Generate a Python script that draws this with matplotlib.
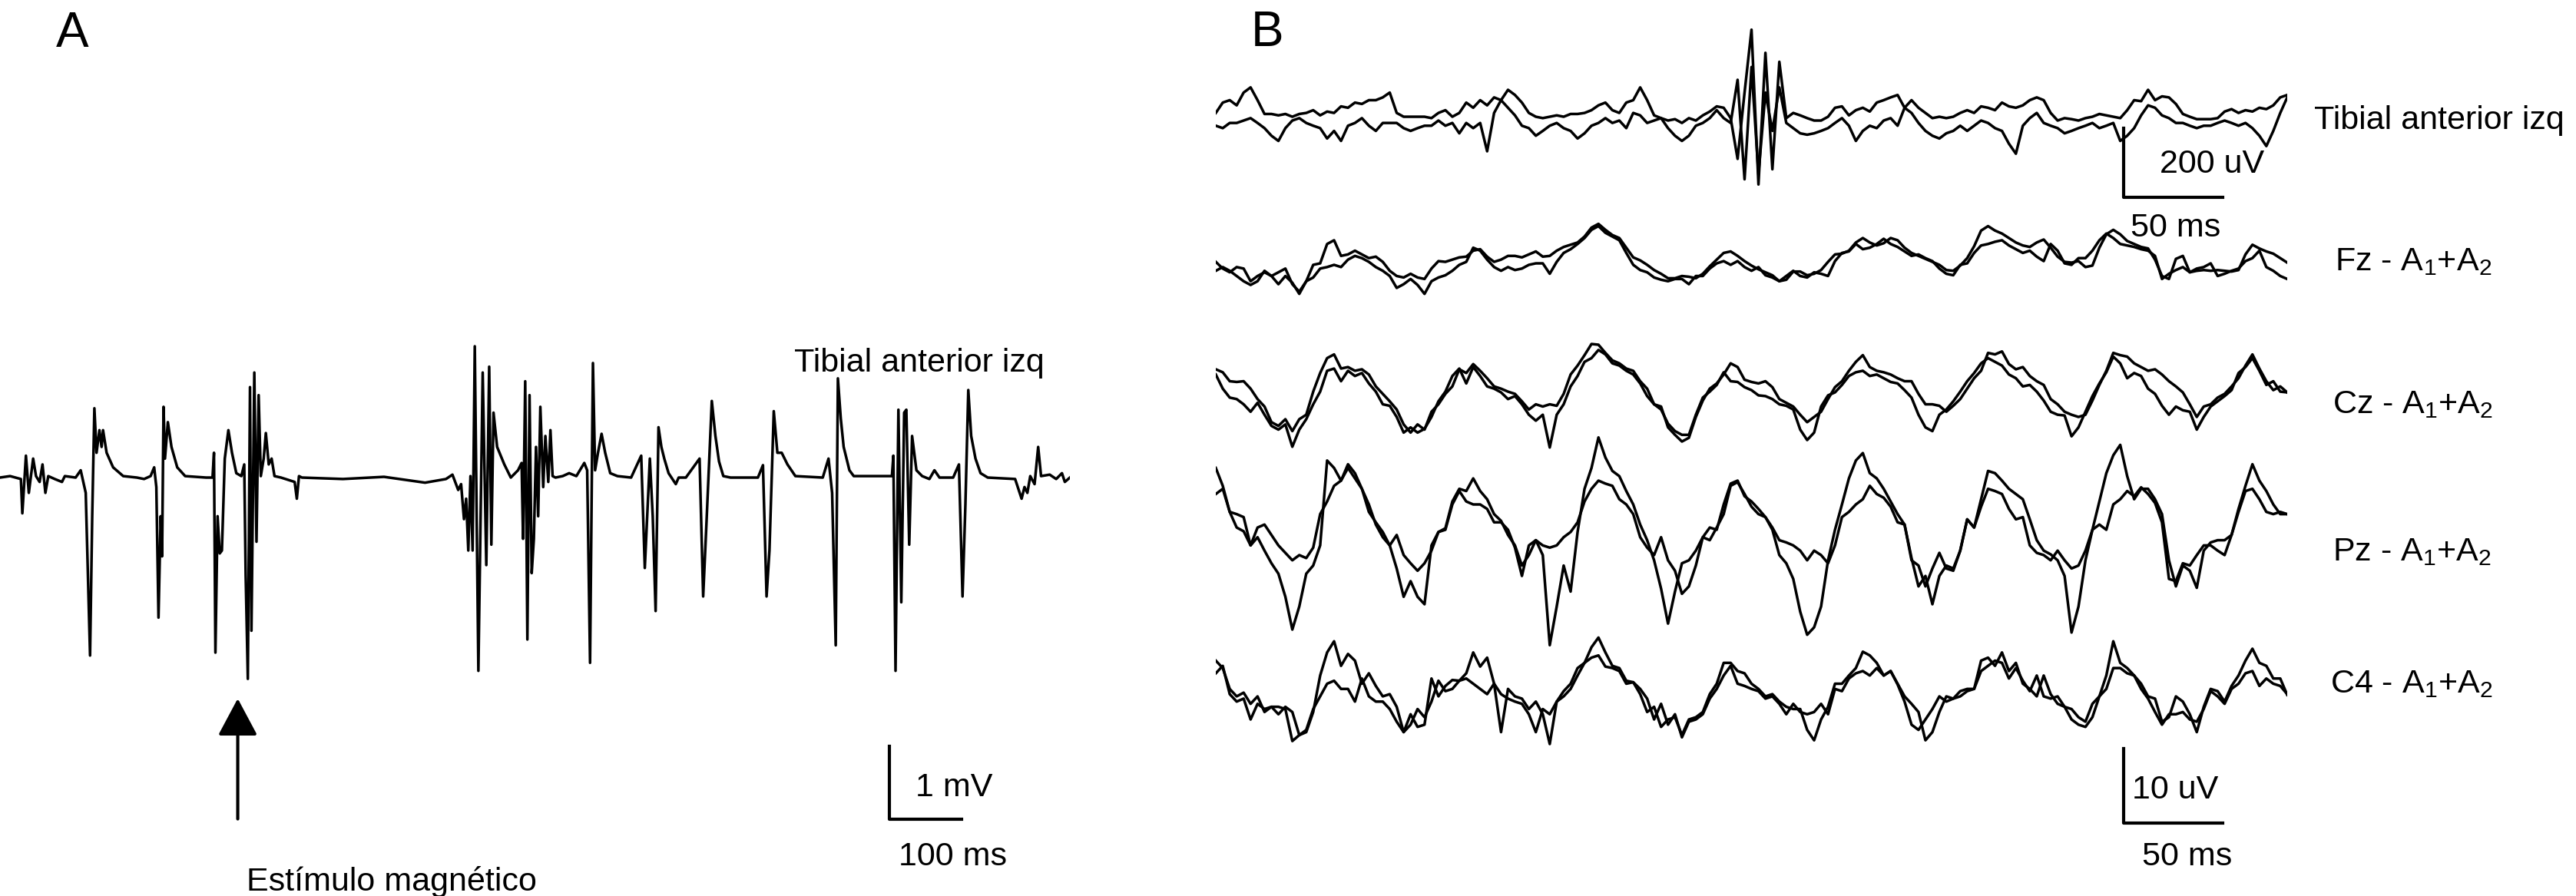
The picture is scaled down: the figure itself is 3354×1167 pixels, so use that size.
import numpy as np
import matplotlib
matplotlib.use("Agg")
import matplotlib.pyplot as plt

plt.rcParams['font.family'] = ['Liberation Sans', 'DejaVu Sans']
plt.rcParams['mathtext.fontset'] = 'custom'
plt.rcParams['mathtext.rm'] = 'Liberation Sans'
plt.rcParams['mathtext.it'] = 'Liberation Sans:italic'
plt.rcParams['mathtext.default'] = 'regular'

W, H = 3354, 1167

# ---------------- panel A: tibial anterior EMG (ms, mV) ----------------
emg_t_ms = [0, 14, 29, 31, 36, 40, 46, 50, 55, 59, 63, 67, 76, 86, 90, 105, 112, 119, 125, 128,
            131, 134, 138, 141, 143, 148, 157, 171, 190, 200, 209, 214, 217, 220, 223, 225, 227, 229, 233, 238,
            246, 257, 286, 295, 297, 299, 302, 305, 308, 312, 317, 322, 328, 335, 339, 341, 344, 347, 349, 353,
            356, 359, 362, 366, 369, 373, 377, 381, 390, 409, 412, 415, 419, 476, 533, 590, 619, 628, 636, 640,
            644, 647, 650, 653, 656, 659, 664, 670, 675, 679, 682, 685, 690, 700, 709, 719, 724, 726, 729, 732,
            735, 738, 741, 744, 747, 750, 754, 757, 761, 764, 767, 771, 781, 790, 800, 811, 815, 819, 823, 826,
            830, 835, 840, 847, 857, 876, 890, 895, 899, 902, 906, 910, 914, 918, 922, 928, 938, 942, 952, 971,
            976, 981, 988, 993, 998, 1004, 1014, 1052, 1059, 1064, 1068, 1074, 1079, 1085, 1093, 1104, 1142, 1150, 1155, 1160,
            1163, 1167, 1171, 1179, 1185, 1238, 1240, 1243, 1247, 1251, 1255, 1258, 1262, 1266, 1272, 1280, 1290, 1297, 1304, 1323,
            1331, 1336, 1340, 1344, 1348, 1354, 1361, 1371, 1409, 1418, 1422, 1426, 1430, 1436, 1441, 1445, 1457, 1466, 1474, 1478,
            1485]
emg_mv = [0, 0.02, -0.02, -0.49, 0.30, -0.21, 0.26, 0.02, -0.06, 0.18, -0.21, 0.02, -0.02, -0.06, 0.02, 0, 0.10, -0.21, -2.44, -0.53,
          0.95, 0.34, 0.65, 0.42, 0.65, 0.34, 0.14, 0.02, 0, -0.02, 0.02, 0.14, -0.13, -1.92, -0.53, -1.08, 0.97, 0.26, 0.76, 0.42,
          0.14, 0.02, 0, 0, 0.34, -2.40, -0.53, -1.04, -1.00, 0.26, 0.65, 0.34, 0.06, 0.02, 0.18, -1.34, -2.76, 1.24, -2.10, 1.44,
          -0.88, 1.13, 0.02, 0.26, 0.61, 0.18, 0.26, 0.02, 0, -0.06, -0.29, 0.02, 0, -0.02, 0.01, -0.07, -0.02, 0.04, -0.17, -0.09,
          -0.57, -0.29, -1.00, 0.02, -1.00, 1.80, -2.65, 1.44, -1.20, 1.52, -0.92, 0.89, 0.42, 0.18, 0, 0.10, 0.20, -0.84, 1.32, -2.22,
          1.13, -1.31, -0.84, 0.42, -0.53, 0.97, -0.13, 0.57, -0.06, 0.65, 0.02, 0, 0.02, 0.06, 0.02, 0.20, 0.10, -2.54, 1.57, 0.10,
          0.34, 0.60, 0.34, 0.06, 0.02, 0, 0.30, -1.24, -0.37, 0.26, -0.53, -1.83, 0.69, 0.42, 0.26, 0.06, -0.09, 0, 0, 0.26,
          -1.63, -0.53, 1.05, 0.57, 0.22, 0.02, 0, 0, 0.17, -1.63, -1.00, 0.91, 0.34, 0.34, 0.18, 0.02, 0, 0.26, -0.21, -2.30,
          1.36, 0.81, 0.42, 0.10, 0.02, 0.02, 0.30, -2.65, 0.93, -1.71, 0.89, 0.93, -0.92, 0.57, 0.10, 0.02, -0.02, 0.10, 0, 0,
          0.18, -1.63, -0.37, 1.20, 0.57, 0.26, 0.06, 0, -0.02, -0.29, -0.13, -0.21, 0.02, -0.09, 0.42, 0.02, 0.04, -0.02, 0.06, -0.06,
          0]

# ---------------- panel B: two superimposed sweeps per channel (uV) ----------------
DT_MS = 3.5  # sample spacing of the digitised sweeps

tibial_a_uv = [22, 52, 59, 44, 81, 96, 59, 19, 19, 15, 19, 11, 19, 22, 30, 15, 26, 22, 41, 37,
               52, 48, 59, 59, 67, 81, 22, 11, 11, 11, 11, 7, 22, 30, 11, 22, 52, 37, 59, 44,
               67, 59, 89, 74, 52, 22, 11, 7, 11, 15, 11, 19, 19, 22, 30, 44, 52, 30, 22, 52,
               59, 96, 59, 15, 7, 0, 4, -7, 7, 0, 15, 26, 41, 37, 7, -111, 81, 263, -185, 196,
               -141, 170, 7, 22, 15, 7, 0, 0, 11, 37, 41, 15, 30, 37, 26, 52, 59, 67, 74, 37,
               59, 37, 22, 7, 11, 7, 11, 22, 30, 22, 41, 37, 30, 52, 41, 37, 44, 59, 67, 59,
               22, 0, 7, 4, 0, 7, 11, 19, 15, 11, 7, 30, 59, 56, 89, 59, 70, 67, 48, 19,
               11, 4, 4, 4, 7, 26, 33, 22, 30, 26, 37, 33, 44, 67, 74]
tibial_b_uv = [-15, -22, -7, -7, 0, 7, -7, -22, -44, -59, -22, 0, 7, -7, -15, -22, -52, -30, -59, -15,
               -7, 7, -15, -30, -7, -7, -7, -22, -30, -22, -15, -15, 0, -15, -7, -37, -7, -22, -7, -89,
               22, 59, 37, 15, -15, -22, -44, -30, -15, -7, -22, -30, -52, -37, -15, -7, 7, -7, 0, -22,
               22, 15, -7, 0, 7, -22, -44, -59, -44, -15, -7, 7, 30, 7, -7, 118, -170, 155, -155, 81,
               -30, 96, -7, -22, -37, -41, -37, -30, -22, -7, 7, -15, -59, -30, -15, -22, 0, 7, -15, 37,
               22, -7, -30, -44, -52, -37, -30, -15, -30, -15, 0, -7, -22, -30, -67, -96, -15, 7, 22, -7,
               -15, -22, -37, -30, -22, -15, -7, -22, -15, -7, -59, -44, -22, 15, 44, 37, 15, 7, -7, -7,
               -15, -22, -15, -15, -7, 0, -7, -15, -7, -22, -44, -74, -30, 22, 67]

fz_a_uv = [0.2, -0.7, -1.2, -0.5, -0.7, -2.4, -1.7, -1.2, -1.7, -1.2, -0.7, -2.8, -3.8, -2.4, -0.2, 0.0, 2.6, 3.1, 1.0, 1.2,
           1.7, 1.2, 0.7, 0.9, 0.2, -1.0, -1.7, -1.9, -1.4, -1.9, -2.1, -0.7, 0.3, 0.2, 0.5, 0.8, 0.9, 1.7, 1.9, 0.9,
           0.2, 0.5, 1.0, 1.0, 0.8, 1.2, 1.6, 0.9, 1.0, 1.7, 2.2, 2.5, 2.8, 3.6, 4.8, 5.3, 4.5, 3.8, 3.4, 2.1,
           0.8, 0.4, -0.2, -0.9, -1.4, -2.0, -2.0, -1.7, -1.8, -2.0, -1.4, -0.4, 0.5, 1.4, 1.6, 1.0, 0.3, -0.3, -0.8, -1.2,
           -1.6, -2.4, -2.2, -1.1, -1.1, -1.6, -1.4, -0.9, 0.2, 1.2, 1.3, 1.7, 2.8, 3.4, 2.8, 2.4, 2.7, 3.4, 3.1, 2.1,
           1.4, 1.0, 0.6, 0.2, -0.2, -0.9, -1.0, -0.3, 0.7, 2.3, 4.4, 5.0, 4.4, 4.0, 3.4, 2.8, 2.4, 2.2, 2.8, 3.2,
           2.1, 0.9, 0.2, 0.1, 0.3, -0.5, -0.3, 2.1, 3.9, 4.5, 3.9, 3.0, 2.6, 2.2, 2.0, 0.5, -1.7, -2.1, 0.6, 1.0,
           -1.2, -1.0, -0.9, -1.0, -0.9, -1.0, -1.1, -0.9, 1.2, 2.5, 2.0, 1.6, 1.3, 0.7, 0.1]
fz_b_uv = [-1.0, -0.5, -1.0, -1.7, -2.4, -2.9, -2.4, -1.0, -1.7, -2.8, -1.7, -2.6, -4.1, -2.4, -1.9, -0.7, -0.5, -0.2, -0.5, 0.5,
           1.0, 0.7, 0.2, -0.5, -1.0, -1.7, -3.3, -2.8, -2.1, -2.9, -4.1, -2.4, -1.9, -1.6, -1.0, -0.2, 0.2, 2.1, 1.7, 0.5,
           -0.5, -1.0, -0.5, -0.9, -0.7, -0.2, 0.0, 0.0, -1.4, 0.2, 1.4, 1.9, 2.6, 3.4, 4.5, 5.0, 4.1, 3.6, 3.1, 1.4,
           -0.2, -0.9, -1.2, -1.9, -2.2, -2.4, -2.1, -2.1, -2.8, -1.7, -1.7, -0.7, 0.0, 0.3, -0.2, 0.3, -0.5, -1.0, -0.5, -1.6,
           -1.9, -2.4, -1.7, -1.0, -1.7, -1.9, -1.2, -1.4, -1.7, 0.3, 1.4, 1.6, 2.6, 1.9, 2.1, 2.6, 3.3, 2.6, 2.2, 1.6,
           1.0, 1.2, 0.7, 0.3, -0.7, -1.4, -1.6, -0.2, 0.0, 1.4, 2.4, 2.6, 2.9, 3.1, 2.4, 1.9, 1.4, 1.7, 0.9, 0.3,
           2.6, 1.7, 0.0, -0.2, 0.7, 0.7, 1.7, 3.1, 4.0, 3.4, 2.6, 2.4, 2.2, 1.9, 1.7, 1.0, -2.1, -1.4, -0.9, -0.5,
           -1.2, -0.7, -0.5, 0.0, -1.7, -1.4, -1.0, -0.7, 0.3, 0.7, 1.7, -0.5, -1.0, -1.7, -2.1]

cz_a_uv = [3.3, 2.9, 1.7, 1.6, 1.7, 0.7, -0.7, -1.7, -3.8, -4.3, -3.4, -5.0, -3.4, -2.8, 0.3, 2.8, 4.8, 5.3, 3.4, 3.6,
           3.1, 3.3, 2.6, 1.0, 0.0, -1.0, -2.1, -4.1, -5.2, -4.1, -4.8, -2.4, -1.4, 0.0, 1.0, 3.3, 2.8, 4.0, 3.1, 2.1,
           1.0, 0.7, 0.3, 0.0, -1.0, -2.1, -1.4, -1.7, -1.4, -1.6, 0.0, 2.6, 3.8, 5.2, 6.7, 6.6, 5.5, 4.5, 4.1, 3.4,
           3.1, 1.7, 0.7, -1.4, -1.7, -4.5, -5.5, -6.4, -5.9, -3.1, -0.9, 0.7, 1.4, 2.6, 4.1, 3.6, 1.9, 1.6, 1.4, 1.7,
           0.9, -0.7, -1.2, -1.7, -2.8, -3.8, -3.1, -2.4, -0.7, 0.9, 1.7, 3.1, 4.3, 5.2, 3.6, 3.1, 2.9, 2.6, 2.1, 1.7,
           1.7, 0.0, -1.4, -1.4, -1.6, -2.4, -1.6, -0.7, 0.7, 2.1, 3.1, 5.5, 5.3, 5.7, 4.0, 3.3, 3.6, 2.4, 1.7, 1.2,
           -0.7, -1.4, -2.4, -2.8, -3.1, -2.8, -0.9, 1.2, 3.1, 5.5, 5.2, 5.0, 4.1, 3.6, 3.1, 3.3, 2.6, 1.7, 1.0, 0.2,
           -1.4, -3.1, -1.7, -1.4, -0.5, 0.0, 1.0, 2.1, 3.8, 5.3, 3.4, 1.7, 0.5, 1.0, 0.2]
cz_b_uv = [2.6, 0.7, -0.5, -0.7, -1.4, -2.4, -1.2, -2.8, -4.3, -4.8, -4.1, -7.1, -4.8, -3.4, -1.4, 0.3, 3.1, 3.4, 1.7, 3.1,
           2.4, 2.8, 1.4, 0.3, -1.4, -1.6, -3.1, -5.2, -4.5, -5.2, -4.7, -3.1, -1.0, 0.3, 2.4, 3.4, 1.4, 3.6, 2.4, 1.0,
           0.7, 0.2, -0.7, -0.3, -1.4, -2.8, -3.6, -2.8, -7.2, -2.8, -1.4, 1.0, 2.4, 4.3, 4.8, 5.9, 5.3, 4.1, 3.8, 3.1,
           2.6, 1.4, -0.3, -1.4, -2.1, -4.0, -5.0, -5.5, -5.5, -2.8, -0.5, 0.3, 1.2, 2.9, 1.7, 1.6, 0.9, 0.5, -0.2, -0.3,
           -0.7, -1.4, -1.6, -2.1, -4.8, -6.2, -5.2, -1.7, -0.2, 0.2, 1.2, 2.4, 2.9, 3.1, 2.4, 2.6, 2.1, 1.6, 1.4, 0.5,
           -0.5, -2.8, -4.5, -5.0, -2.8, -2.1, -1.0, 0.3, 1.7, 2.8, 4.1, 4.8, 4.3, 3.8, 2.6, 2.1, 1.0, 1.2, 0.3, -0.9,
           -2.4, -2.8, -2.9, -5.7, -4.5, -2.4, -0.3, 1.4, 2.9, 5.0, 4.1, 2.1, 2.8, 2.4, 0.7, 0.0, -1.6, -2.8, -1.7, -2.2,
           -2.4, -4.8, -3.1, -1.7, -1.0, -0.3, 0.5, 2.8, 3.6, 4.8, 3.1, 1.2, 1.7, 0.3, 0.2]

pz_a_uv = [8.3, 5.9, 2.4, 0.3, -0.2, -2.1, -1.0, -2.8, -4.5, -5.9, -9.0, -13.4, -10.3, -5.9, -4.8, -2.1, 9.3, 8.3, 6.6, 8.8,
           7.6, 5.5, 2.4, 1.0, -0.3, -2.1, -5.2, -9.0, -6.9, -9.0, -10.0, -2.1, -0.3, 0.2, 3.8, 5.5, 5.2, 6.9, 5.2, 4.1,
           2.1, 1.2, -0.7, -2.1, -4.8, -3.4, -1.4, -3.4, -15.5, -10.3, -4.8, -8.3, -0.3, 5.5, 8.3, 12.4, 9.7, 7.9, 7.2, 5.2,
           3.4, 0.7, -1.4, -4.1, -7.9, -12.6, -8.3, -4.5, -4.1, -2.8, -1.0, 0.3, 0.0, 3.4, 6.2, 6.6, 4.5, 3.8, 2.8, 1.7,
           0.0, -3.4, -4.5, -6.6, -11.0, -14.1, -13.1, -10.3, -4.1, 0.0, 3.4, 6.9, 9.3, 10.3, 7.6, 6.9, 5.5, 3.8, 2.1, 0.7,
           -3.8, -7.6, -6.2, -10.0, -6.2, -4.8, -5.2, -2.8, 1.4, 0.3, 4.1, 7.9, 7.6, 6.6, 5.5, 4.8, 4.1, 1.4, -1.4, -2.8,
           -3.3, -4.1, -6.2, -13.8, -10.3, -4.1, 0.0, 3.8, 7.6, 10.0, 11.4, 7.2, 4.1, 5.5, 5.5, 4.1, 2.1, -4.1, -7.6, -4.8,
           -5.5, -7.8, -2.8, -1.7, -1.4, -1.4, -0.7, 2.8, 5.9, 8.8, 6.6, 5.2, 3.4, 2.1, 2.1]
pz_b_uv = [4.8, 5.5, 2.4, 2.1, 1.7, -2.1, 0.3, 0.7, -0.7, -2.1, -3.1, -4.1, -3.4, -3.8, -2.4, 2.1, 3.8, 5.9, 6.6, 8.3,
           6.9, 5.5, 3.4, 0.7, -1.0, -2.1, -0.7, -3.4, -4.5, -5.5, -4.5, -2.8, -0.3, 0.0, 3.4, 5.2, 3.8, 3.4, 3.4, 2.8,
           1.0, 1.0, 0.0, -2.4, -6.2, -2.1, -1.4, -2.1, -2.4, -2.1, -1.0, -0.3, 1.0, 3.8, 5.5, 6.6, 6.2, 5.9, 4.1, 3.4,
           2.1, -1.0, -2.4, -3.4, -1.0, -4.1, -5.5, -8.6, -7.6, -4.8, -1.0, -1.4, 0.3, 2.1, 5.9, 6.4, 4.8, 3.1, 2.1, 1.7,
           0.3, -1.4, -1.7, -2.1, -2.8, -4.1, -2.8, -3.4, -4.5, -2.1, 1.7, 2.4, 3.4, 4.1, 5.9, 4.8, 4.3, 3.1, 1.0, 0.7,
           -4.1, -4.8, -7.6, -5.2, -3.1, -5.2, -5.5, -2.8, 1.4, 0.3, 3.1, 5.5, 5.2, 4.8, 2.8, 1.4, 1.7, -2.1, -3.1, -3.4,
           -4.1, -2.8, -4.1, -5.2, -4.8, -2.8, 0.0, 0.7, 0.0, 3.4, 4.1, 5.2, 4.5, 5.7, 4.8, 3.6, 1.0, -6.6, -6.9, -4.5,
           -4.8, -3.4, -2.1, -2.1, -2.8, -3.4, -0.7, 2.4, 5.2, 5.5, 4.1, 2.4, 2.1, 2.4, 2.1]

c4_a_uv = [4.8, 3.8, 1.0, 0.0, 0.5, -1.0, 0.0, -2.1, -1.4, -1.4, -1.7, -6.0, -5.2, -4.8, -2.1, 2.8, 5.9, 7.4, 4.1, 5.7,
           4.8, 1.7, 3.1, 1.4, 0.0, 0.3, -1.4, -4.8, -3.8, -1.7, -2.8, -0.7, 2.1, 0.7, 1.0, 2.1, 3.1, 5.9, 4.0, 5.2,
           1.7, -4.8, 1.0, 0.0, -0.3, -1.7, -0.7, -2.4, -6.4, -0.7, 0.0, 1.0, 2.8, 4.5, 6.6, 7.9, 5.9, 4.1, 3.8, 2.1,
           1.9, 0.3, -2.1, -1.4, -4.1, -3.1, -2.8, -5.2, -3.1, -2.8, -2.1, 0.3, 1.7, 4.5, 4.5, 3.4, 3.1, 1.7, 1.0, 0.0,
           0.3, -0.7, -1.4, -1.7, -1.7, -4.5, -5.9, -3.1, -1.4, 1.7, 1.7, 2.8, 3.8, 6.0, 5.5, 4.5, 2.8, 3.4, 1.7, 0.0,
           -1.0, -2.1, -5.9, -4.8, -2.1, 0.0, -0.3, 0.0, 0.7, 1.0, 4.8, 5.2, 4.1, 5.9, 3.4, 4.5, 1.7, 1.0, 0.0, 2.8,
           0.3, -1.0, -1.4, -3.1, -3.8, -4.1, -2.8, 0.0, 2.8, 7.4, 4.5, 3.8, 2.8, 1.7, 0.0, -0.3, -3.4, -2.8, 0.0, -0.7,
           -2.4, -4.8, -1.4, 1.0, 0.7, -0.7, 1.4, 2.8, 4.8, 6.4, 4.5, 4.1, 2.4, 2.4, 0.2]
c4_b_uv = [3.1, 4.1, 0.3, -0.7, -0.3, -3.1, -1.0, -1.7, -1.4, -2.4, -1.4, -2.1, -5.2, -4.5, -1.7, 0.0, 1.7, 2.1, 1.0, 1.0,
           -0.7, 2.4, 0.0, -0.7, -0.7, -1.7, -3.4, -4.8, -2.4, -4.1, -3.8, 2.4, 0.0, 1.4, 2.2, 2.1, 2.4, 1.7, 1.0, 0.3,
           1.7, 0.3, -0.3, -0.7, -1.0, -2.4, -4.8, -1.7, -2.4, -0.7, 0.7, 1.7, 3.8, 4.5, 5.2, 5.5, 4.0, 3.8, 3.4, 1.7,
           1.9, 1.0, -0.3, -3.1, -1.0, -3.8, -2.4, -5.5, -3.4, -3.1, -2.4, -0.3, 1.0, 2.8, 4.1, 1.7, 1.4, 1.0, 0.7, -0.3,
           0.0, -1.0, -2.4, -1.0, -2.1, -2.4, -2.1, -1.0, -2.4, 1.0, 0.7, 2.4, 3.1, 3.4, 2.8, 3.8, 2.8, 3.4, 1.6, -0.7,
           -3.8, -4.5, -3.1, -1.7, 0.0, -0.7, -0.3, 0.7, 1.0, 1.0, 3.4, 4.1, 4.8, 4.5, 2.4, 3.8, 2.1, 0.7, 2.8, 0.0,
           -0.3, 0.0, -1.4, -1.7, -2.8, -3.4, -1.0, 0.0, 1.0, 3.8, 3.8, 3.1, 2.8, 1.0, -0.3, -2.1, -3.8, -2.4, -2.4, -2.1,
           -3.1, -3.4, -1.7, 0.7, 0.0, -1.0, 1.0, 1.7, 3.1, 3.4, 1.4, 2.4, 1.7, 1.4, 0.3]

chan_labels = ["Tibial anterior izq", r"Fz - A$_1$+A$_2$", r"Cz - A$_1$+A$_2$",
               r"Pz - A$_1$+A$_2$", r"C4 - A$_1$+A$_2$"]

LW = 2.5
BAR_LW = 3.0
FS = 31

fig = plt.figure(figsize=(W / 100, H / 100), dpi=100)


def strip_axes(x0, x1, xlim, ylim):
    # axes spanning figure pixels x0..x1 over the whole height
    ax = fig.add_axes([x0 / W, 0, (x1 - x0) / W, 1])
    ax.set_xlim(*xlim)
    ax.set_ylim(*ylim)
    ax.set_axis_off()
    ax.patch.set_alpha(0)
    return ax


def fig_text(x, y, s, **kw):
    fig.text(x / W, 1 - y / H, s, va='baseline', ha='left', **kw)


# ---- panel A ----
a_base, a_scale = 622, 95.0  # baseline row, px per mV
axA = strip_axes(0, 1393, (0, 1485), ((a_base - H) / a_scale, a_base / a_scale))
axA.plot(emg_t_ms, emg_mv, color='k', lw=LW)
axA.plot([1235, 1235, 1335], [-3.68, -4.68, -4.68], color='k', lw=BAR_LW, clip_on=False)
axA.text(1271, -4.37, "1 mV", fontsize=FS, va='baseline')
axA.text(1247, -5.32, "100 ms", fontsize=FS, va='baseline')
axA.annotate('', xy=(330, -3.03), xytext=(330, -4.68),
             arrowprops=dict(arrowstyle='-|>,head_length=1.5,head_width=0.8', lw=BAR_LW,
                             color='k', mutation_scale=20, shrinkA=0, shrinkB=0))
axA.text(342, -5.66, "Estímulo magnético", fontsize=FS, va='baseline')
axA.text(1102, 1.45, "Tibial anterior izq", fontsize=FS, va='baseline')
fig_text(73, 61, "A", fontsize=46)

# ---- panel B ----
sweeps = [(tibial_a_uv, tibial_b_uv), (fz_a_uv, fz_b_uv), (cz_a_uv, cz_b_uv),
          (pz_a_uv, pz_b_uv), (c4_a_uv, c4_b_uv)]
centers = [157, 343, 513, 690, 907]
scales = [0.45, 9.7, 9.7, 9.7, 9.7]  # px per uV
label_pos = [(3013, 168), (3040, 352), (3037, 538), (3037, 730), (3034, 902)]

axes_b = []
for (va, vb), c, s in zip(sweeps, centers, scales):
    ax = strip_axes(1583, 2978, (0, 154 * DT_MS), ((c - H) / s, c / s))
    for v in (va, vb):
        t = np.arange(len(v)) * DT_MS
        ax.plot(t, v, color='k', lw=LW)
    axes_b.append(ax)

for lab, (x, y) in zip(chan_labels, label_pos):
    fig_text(x, y, lab, fontsize=FS)

ax1 = axes_b[0]
ax1.plot([456.6, 456.6, 506.6], [-22, -222, -222], color='k', lw=BAR_LW, clip_on=False)
ax1.text(475, -151, "200 uV", fontsize=FS, va='baseline')
ax1.text(483, -336, "50 ms", fontsize=FS, va='baseline', ha='center')

ax5 = axes_b[4]
ax5.plot([456.6, 456.6, 506.6], [-7.0, -17.0, -17.0], color='k', lw=BAR_LW, clip_on=False)
ax5.text(461, -13.7, "10 uV", fontsize=FS, va='baseline')
ax5.text(466, -22.7, "50 ms", fontsize=FS, va='baseline')

fig_text(1629, 60, "B", fontsize=46)

fig.savefig("out.png", dpi=100, facecolor='white')
